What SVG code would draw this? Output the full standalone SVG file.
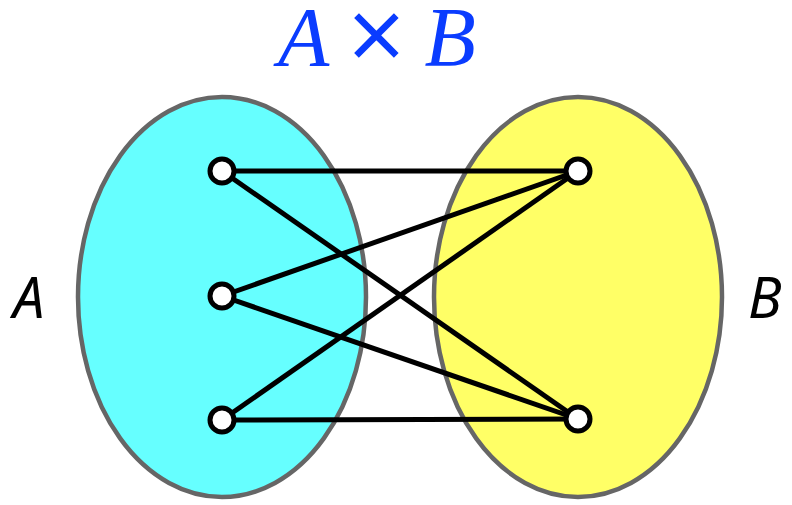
<svg xmlns="http://www.w3.org/2000/svg" width="792" height="505" viewBox="0 0 792 505">
<style>
.set{stroke:#666666;stroke-width:4.5}
.edge{stroke:#000;stroke-width:5;fill:none}
.pt{fill:#fff;stroke:#000;stroke-width:5}
.lbl{font-family:"Noto Sans","Open Sans","DejaVu Sans",sans-serif;font-style:italic;font-size:56px;fill:#000}
.title{font-family:"Liberation Serif","Times New Roman",serif;font-style:italic;font-size:84px;fill:#0A3CFF}
</style>
<rect width="792" height="505" fill="#fff"/>
<g id="setA"><ellipse class="set" cx="222" cy="297" rx="144" ry="200" fill="#66FFFF"/></g>
<g id="setB"><ellipse class="set" cx="578" cy="297" rx="144" ry="200" fill="#FFFF66"/></g>
<g id="connectors">
<line class="edge" x1="222" y1="171" x2="578" y2="171"/>
<line class="edge" x1="222" y1="171" x2="578" y2="419"/>
<line class="edge" x1="222" y1="296" x2="578" y2="171"/>
<line class="edge" x1="222" y1="296" x2="578" y2="419"/>
<line class="edge" x1="222" y1="420" x2="578" y2="171"/>
<line class="edge" x1="222" y1="420" x2="578" y2="419"/>
</g>
<g id="a1"><circle class="pt" cx="222" cy="171" r="12"/></g>
<g id="a2"><circle class="pt" cx="222" cy="296" r="12"/></g>
<g id="a3"><circle class="pt" cx="222" cy="420" r="12"/></g>
<g id="b1"><circle class="pt" cx="578" cy="171" r="12"/></g>
<g id="b2"><circle class="pt" cx="578" cy="419" r="12"/></g>
<g id="labelA"><text class="lbl" x="13" y="318">A</text></g>
<g id="labelB"><text class="lbl" x="748" y="318">B</text></g>
<g id="title"><text class="title" x="377" y="66" text-anchor="middle">A <tspan font-style="normal" font-size="104" dx="-2" dy="4" stroke="#0A3CFF" stroke-width="1.5">×</tspan><tspan dx="-2" dy="-4"> B</tspan></text></g>
</svg>
